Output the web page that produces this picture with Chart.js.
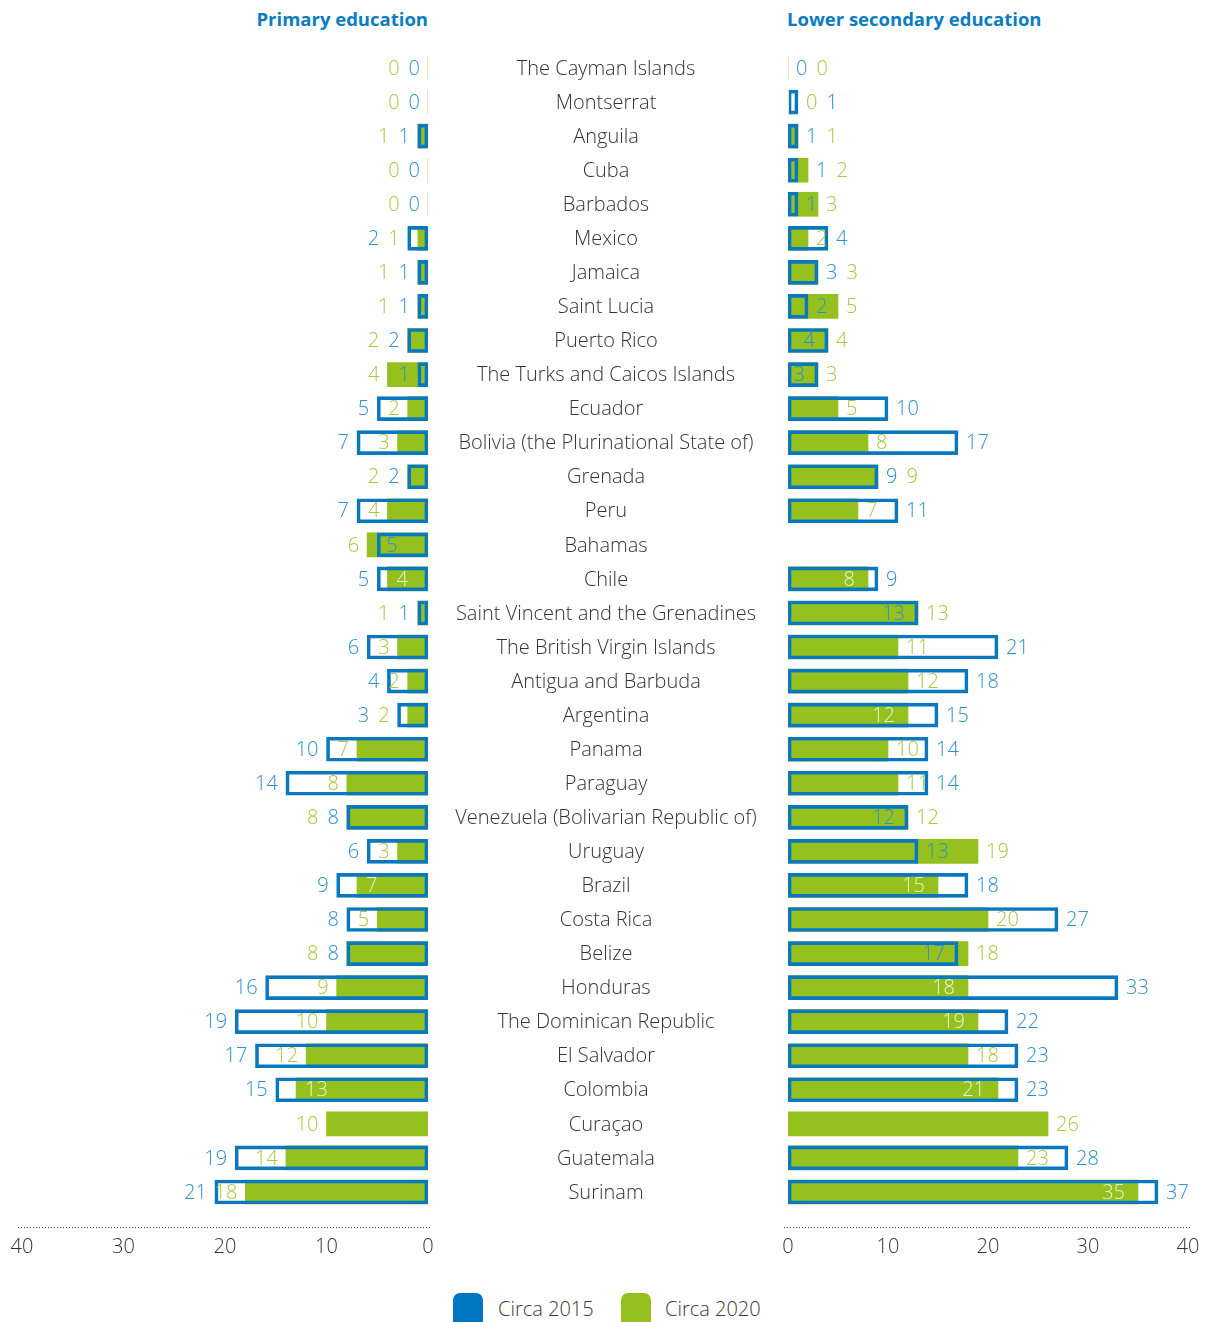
<!DOCTYPE html>
<html>
<head>
<meta charset="utf-8">
<script src="https://cdn.jsdelivr.net/npm/chart.js@4.4.1/dist/chart.umd.min.js"></script>
<style>
  html, body { margin: 0; padding: 0; background: #ffffff; }
  body { width: 1208px; height: 1322px; position: relative; overflow: hidden; font-family: "Open Sans", "Noto Sans", sans-serif; }
  canvas { position: absolute; top: 0; }
  .title { position: absolute; top: 6px; font-size: 18.5px; font-weight: 700; color: #0a7cc2; white-space: nowrap; line-height: 26px; }
  .legend { position: absolute; top: 1293px; left: 0; width: 1208px; height: 40px; }
  .lg-box { position: absolute; top: 0; width: 30px; height: 40px; border-radius: 7px; }
  .lg-text { position: absolute; top: 3px; font-size: 20px; font-weight: 300; color: #3a3a3a; line-height: 26px; white-space: nowrap; }
</style>
</head>
<body>
<div class="title" id="tLeft" style="right:780px;">Primary education</div>
<div class="title" id="tRight" style="left:787px;">Lower secondary education</div>
<canvas id="left" width="778" height="1280" style="left:0px;width:778px;height:1280px;"></canvas>
<canvas id="right" width="440" height="1280" style="left:768px;width:440px;height:1280px;"></canvas>
<div class="legend">
  <div class="lg-box" style="left:453px;background:#0077c0;"></div>
  <div class="lg-text" style="left:498px;">Circa 2015</div>
  <div class="lg-box" style="left:621px;background:#95c11f;"></div>
  <div class="lg-text" style="left:665px;">Circa 2020</div>
</div>
<script>
// ---------------- DATA ----------------
const categories = [
  "The Cayman Islands", "Montserrat", "Anguila", "Cuba", "Barbados", "Mexico", "Jamaica",
  "Saint Lucia", "Puerto Rico", "The Turks and Caicos Islands", "Ecuador",
  "Bolivia (the Plurinational State of)", "Grenada", "Peru", "Bahamas", "Chile",
  "Saint Vincent and the Grenadines", "The British Virgin Islands", "Antigua and Barbuda",
  "Argentina", "Panama", "Paraguay", "Venezuela (Bolivarian Republic of)", "Uruguay",
  "Brazil", "Costa Rica", "Belize", "Honduras", "The Dominican Republic", "El Salvador",
  "Colombia", "Curaçao", "Guatemala", "Surinam"
];
const primary2015 = [0,0,1,0,0,2,1,1,2,1,5,7,2,7,5,5,1,6,4,3,10,14,8,6,9,8,8,16,19,17,15,null,19,21];
const primary2020 = [0,0,1,0,0,1,1,1,2,4,2,3,2,4,6,4,1,3,2,2,7,8,8,3,7,5,8,9,10,12,13,10,14,18];
const lower2015   = [0,1,1,1,1,4,3,2,4,3,10,17,9,11,null,9,13,21,18,15,14,14,12,13,18,27,17,33,22,23,23,null,28,37];
const lower2020   = [0,0,1,2,3,2,3,5,4,3,5,8,9,7,null,8,13,11,12,12,10,11,12,19,15,20,18,18,19,18,21,26,23,35];
const seriesNames = ["Circa 2015", "Circa 2020"];
const axisTicks = [0, 10, 20, 30, 40];

// label placement styles: o = outside all bars, a = just past own bar end, i = inside own bar end
const primaryModes2015 = ['o','o','o','o','o', 'o','o','o','o','a', 'o','o','o','o','i', 'o','o','o','o','o',
                          'o','o','o','o','o', 'o','o','o','o','o', 'o','-','o','o'];
const primaryModes2020 = ['o','o','o','o','o', 'o','o','o','o','o', 'a','a','o','a','o', 'i','o','a','a','o',
                          'a','a','o','a','i', 'a','o','a','a','a', 'i','o','a','a'];
const lowerModes2015   = ['o','o','o','o','a', 'o','o','a','i','i', 'o','o','o','o','-', 'o','i','o','o','o',
                          'o','o','i','a','o', 'o','i','o','o','o', 'o','-','o','o'];
const lowerModes2020   = ['o','o','o','o','o', 'a','o','o','o','o', 'a','a','o','a','-', 'i','o','a','a','i',
                          'a','a','o','o','i', 'a','o','i','i','a', 'i','o','a','i'];

// ---------------- STYLE ----------------
const BLUE = "#0a78bf";
const GREEN = "#95c11f";
const BLUE_TXT = "#2f8fd0";
const GREEN_TXT = "#a7c83f";
const GREEN_IN_TXT = "#eaf3cf";
const LABEL_FONT = '300 20px "Open Sans", "Noto Sans", sans-serif';

function labelsPlugin(side, vals15, vals20, modes15, modes20) {
  return {
    id: 'valueLabels_' + side,
    afterDatasetsDraw(chart) {
      const ctx = chart.ctx, xs = chart.scales.x, ys = chart.scales.y;
      const dir = side === 'left' ? -1 : 1;
      ctx.save();
      ctx.font = LABEL_FONT;
      ctx.textBaseline = 'middle';
      for (let i = 0; i < categories.length; i++) {
        const y = ys.getPixelForValue(i);
        if (vals20[i] === 0) {
          const x0 = xs.getPixelForValue(0);
          ctx.fillStyle = '#dfeab6';
          ctx.fillRect(side === 'left' ? x0 - 1 : x0, y - 12, 1, 24);
        }
        const items = [];
        if (vals15[i] !== null) items.push({ v: vals15[i], s: 'b', m: modes15[i] });
        if (vals20[i] !== null) items.push({ v: vals20[i], s: 'g', m: modes20[i] });
        if (!items.length) continue;
        const maxV = Math.max(...items.map(d => d.v));
        const maxEnd = xs.getPixelForValue(maxV);
        const outs = [];
        items.forEach(it => {
          const txt = String(it.v);
          const end = xs.getPixelForValue(it.v);
          if (it.m === 'o') { outs.push(it); return; }
          let color = it.s === 'b' ? BLUE_TXT : GREEN_TXT;
          if (it.m === 'a') {
            ctx.textAlign = side === 'left' ? 'right' : 'left';
            ctx.fillStyle = color;
            ctx.fillText(txt, end + dir * 8, y + 1);
          } else {
            if (it.s === 'g') color = GREEN_IN_TXT;
            ctx.textAlign = side === 'left' ? 'left' : 'right';
            ctx.fillStyle = color;
            ctx.fillText(txt, side === 'left' ? end + 9 : end - 13, y + 1);
          }
        });
        outs.sort((a, b) => (a.v - b.v) || (a.s === 'b' ? -1 : 1));
        let pos = maxEnd + dir * 8;
        ctx.textAlign = side === 'left' ? 'right' : 'left';
        outs.forEach(it => {
          const txt = String(it.v);
          ctx.fillStyle = it.s === 'b' ? BLUE_TXT : GREEN_TXT;
          ctx.fillText(txt, pos, y + 1);
          pos += dir * (ctx.measureText(txt).width + 9);
        });
      }
      ctx.restore();
    },
    afterDraw(chart) {
      const ctx = chart.ctx, xs = chart.scales.x;
      const a = xs.getPixelForValue(0), b = xs.getPixelForValue(40);
      const lo = Math.min(a, b) - 4, hi = Math.max(a, b) + 3;
      const yLine = chart.chartArea.bottom + 18.5;
      ctx.save();
      ctx.strokeStyle = '#444';
      ctx.lineWidth = 1;
      ctx.setLineDash([1, 2]);
      ctx.beginPath();
      ctx.moveTo(lo, yLine);
      ctx.lineTo(hi, yLine);
      ctx.stroke();
      ctx.restore();
    }
  };
}

const categoryPlugin = {
  id: 'categoryLabels',
  afterDraw(chart) {
    const ctx = chart.ctx, ys = chart.scales.y;
    ctx.save();
    ctx.font = LABEL_FONT;
    ctx.fillStyle = '#333333';
    ctx.textAlign = 'center';
    ctx.textBaseline = 'middle';
    categories.forEach((c, i) => ctx.fillText(c, 606, ys.getPixelForValue(i) + 1));
    ctx.restore();
  }
};

function makeChart(id, side, vals15, vals20, modes15, modes20, padding) {
  const plugins = [labelsPlugin(side, vals15, vals20, modes15, modes20)];
  if (side === 'left') plugins.push(categoryPlugin);
  return new Chart(document.getElementById(id), {
    type: 'bar',
    data: {
      labels: categories,
      datasets: [
        { label: seriesNames[0], data: vals15, backgroundColor: 'rgba(0,0,0,0)', borderColor: BLUE,
          borderWidth: 3, borderSkipped: false, grouped: false, barThickness: 24 },
        { label: seriesNames[1], data: vals20, backgroundColor: GREEN, borderWidth: 0,
          grouped: false, barThickness: 24 }
      ]
    },
    options: {
      indexAxis: 'y',
      responsive: false,
      animation: false,
      devicePixelRatio: 1,
      layout: { padding: padding },
      plugins: { legend: { display: false }, tooltip: { enabled: false } },
      scales: {
        x: {
          min: 0, max: 40, reverse: side === 'left',
          afterBuildTicks(scale) { scale.ticks = axisTicks.map(v => ({ value: v })); },
          afterFit(scale) { scale.height = 60; scale.paddingLeft = 0; scale.paddingRight = 0; },
          grid: { display: false, drawTicks: false },
          border: { display: false },
          ticks: { font: { family: '"Open Sans", "Noto Sans", sans-serif', size: 20, weight: 300 },
                   color: '#333333', padding: 26, maxRotation: 0, autoSkip: false }
        },
        y: { display: false }
      }
    },
    plugins: plugins
  });
}

makeChart('left', 'left', primary2015, primary2020, primaryModes2015, primaryModes2020,
  { left: 22, right: 350, top: 51, bottom: 11 });
makeChart('right', 'right', lower2015, lower2020, lowerModes2015, lowerModes2020,
  { left: 20, right: 20, top: 51, bottom: 11 });
</script>
</body>
</html>
